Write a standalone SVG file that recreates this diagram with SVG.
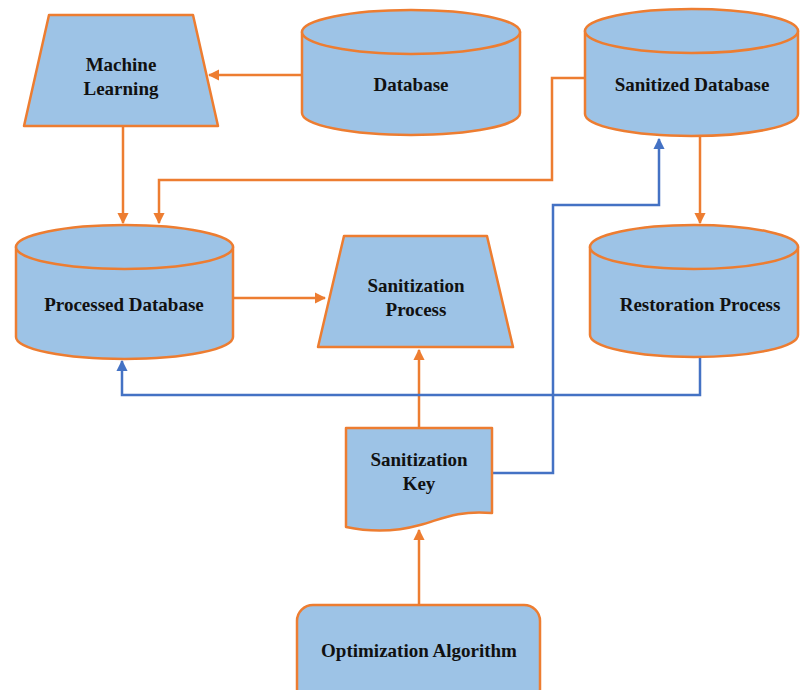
<svg xmlns="http://www.w3.org/2000/svg" width="800" height="690" viewBox="0 0 800 690">
  <style>
    .shape { fill: #9DC3E6; stroke: #ED7D31; stroke-width: 2.5; stroke-linejoin: round; }
    .label { font-family: 'Liberation Serif', 'DejaVu Serif', serif; font-weight: bold; font-size: 19px; fill: #111111; text-anchor: middle; }
    .orange { fill: none; stroke: #ED7D31; stroke-width: 2.5; }
    .blue { fill: none; stroke: #4472C4; stroke-width: 2.5; }
  </style>
  <defs>
    <marker id="arrowOrange" viewBox="0 0 10 10" refX="9" refY="5" markerWidth="4.5" markerHeight="4.5" orient="auto" markerUnits="strokeWidth">
      <path d="M0,0 L10,5 L0,10 z" fill="#ED7D31"/>
    </marker>
    <marker id="arrowBlue" viewBox="0 0 10 10" refX="9" refY="5" markerWidth="4.5" markerHeight="4.5" orient="auto" markerUnits="strokeWidth">
      <path d="M0,0 L10,5 L0,10 z" fill="#4472C4"/>
    </marker>
  </defs>
  <rect width="800" height="690" fill="#ffffff"/>

  <!-- connectors -->
  <g id="connectors">
    <path class="orange" d="M302,75 L209,75" marker-end="url(#arrowOrange)"/>
    <path class="orange" d="M123,126 L123,223" marker-end="url(#arrowOrange)"/>
    <path class="orange" d="M585,78 L552,78 L552,180 L159,180 L159,223" marker-end="url(#arrowOrange)"/>
    <path class="orange" d="M233,298 L325,298" marker-end="url(#arrowOrange)"/>
    <path class="orange" d="M700,137 L700,223" marker-end="url(#arrowOrange)"/>
    <path class="orange" d="M419,428 L419,350" marker-end="url(#arrowOrange)"/>
    <path class="orange" d="M419,605 L419,530" marker-end="url(#arrowOrange)"/>
    <path class="blue" d="M700,357 L700,395 L122,395 L122,361" marker-end="url(#arrowBlue)"/>
    <path class="blue" d="M492,473 L553,473 L553,205 L659,205 L659,139" marker-end="url(#arrowBlue)"/>
  </g>

  <!-- Machine Learning -->
  <g id="machine-learning">
    <polygon class="shape" points="49,15 193,15 218,126 24,126"/>
    <text class="label" x="121" y="71">Machine</text>
    <text class="label" x="121" y="95">Learning</text>
  </g>

  <!-- Database -->
  <g id="database">
    <path class="shape" d="M302,32 L302,113 A109,22 0 0 0 520,113 L520,32 Z"/>
    <ellipse class="shape" cx="411" cy="32" rx="109" ry="22"/>
    <text class="label" x="411" y="91">Database</text>
  </g>

  <!-- Sanitized Database -->
  <g id="sanitized-database">
    <path class="shape" d="M585,31 L585,114 A106.5,22 0 0 0 798,114 L798,31 Z"/>
    <ellipse class="shape" cx="691.5" cy="31" rx="106.5" ry="22"/>
    <text class="label" x="692" y="91">Sanitized Database</text>
  </g>

  <!-- Processed Database -->
  <g id="processed-database">
    <path class="shape" d="M16,247 L16,337 A108.5,22 0 0 0 233,337 L233,247 Z"/>
    <ellipse class="shape" cx="124.5" cy="247" rx="108.5" ry="22"/>
    <text class="label" x="124" y="311">Processed Database</text>
  </g>

  <!-- Sanitization Process -->
  <g id="sanitization-process">
    <polygon class="shape" points="344,236 487,236 513,347 318,347"/>
    <text class="label" x="416" y="292">Sanitization</text>
    <text class="label" x="416" y="316">Process</text>
  </g>

  <!-- Restoration Process -->
  <g id="restoration-process">
    <path class="shape" d="M590,247 L590,335 A104,22 0 0 0 798,335 L798,247 Z"/>
    <ellipse class="shape" cx="694" cy="247" rx="104" ry="22"/>
    <text class="label" x="700" y="311">Restoration Process</text>
  </g>

  <!-- Sanitization Key -->
  <g id="sanitization-key">
    <path class="shape" d="M346,428 L492,428 L492,513 C455,510 440,520 420,525 C395,532 370,532 346,527 Z"/>
    <text class="label" x="419" y="466">Sanitization</text>
    <text class="label" x="419" y="490">Key</text>
  </g>

  <!-- Optimization Algorithm -->
  <g id="optimization-algorithm">
    <rect class="shape" x="297" y="605" width="243" height="100" rx="16" ry="16"/>
    <text class="label" x="419" y="657">Optimization Algorithm</text>
  </g>
</svg>
